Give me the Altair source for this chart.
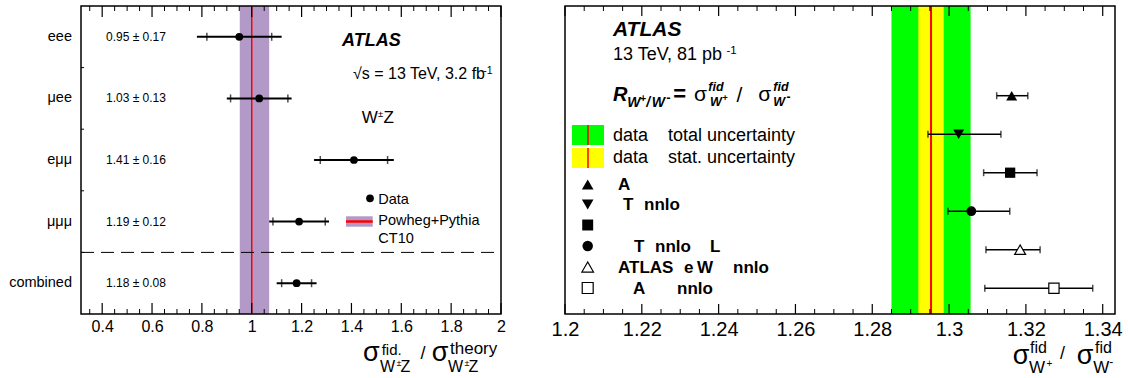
import altair as alt
import pandas as pd

FONT = "Liberation Sans"

# ---------------- data: left panel (W±Z cross-section ratios) ----------------
channels = ["eee", "μee", "eμμ", "μμμ", "combined"]
wz_value = [0.95, 1.03, 1.41, 1.19, 1.18]
wz_total = [0.17, 0.13, 0.16, 0.12, 0.08]
wz_stat = [0.13, 0.115, 0.135, 0.105, 0.06]
wz_row = [4.5, 3.5, 2.5, 1.5, 0.5]
theory_low, theory_high = 0.952, 1.070
theory_central = 1.0
separator_row = 1.0
row_edges = [1, 2, 3, 4]
left_major = [0.4, 0.6, 0.8, 1.0, 1.2, 1.4, 1.6, 1.8, 2.0]
left_minor = [0.35, 0.45, 0.5, 0.55, 0.65, 0.7, 0.75, 0.85, 0.9, 0.95, 1.05, 1.1,
              1.15, 1.25, 1.3, 1.35, 1.45, 1.5, 1.55, 1.65, 1.7, 1.75, 1.85, 1.9, 1.95]

# ---------------- data: right panel (W+/W- ratio) ----------------
R_central = 1.2953
R_stat = 0.0033
R_total = 0.0103
pred_value = [1.3163, 1.3025, 1.3159, 1.3058, 1.3185, 1.3273]
pred_low = [1.3124, 1.2945, 1.3090, 1.2997, 1.3096, 1.3093]
pred_high = [1.3205, 1.3135, 1.3229, 1.3158, 1.3237, 1.3374]
pred_shape = ["triangle-up", "triangle-down", "square", "circle", "triangle-up", "square"]
pred_open = [False, False, False, False, True, True]
pred_row = [5.67, 4.67, 3.67, 2.67, 1.67, 0.67]
right_major = [1.2, 1.22, 1.24, 1.26, 1.28, 1.3, 1.32, 1.34]
right_minor = [1.205, 1.21, 1.215, 1.225, 1.23, 1.235, 1.245, 1.25, 1.255, 1.265, 1.27,
               1.275, 1.285, 1.29, 1.295, 1.305, 1.31, 1.315, 1.325, 1.33, 1.335]

# ---------------- styles ----------------
WL, HL = 420, 308
WR, HR = 550, 308
PURPLE = "#b399c8"
RED = "#ff0000"
GREEN = "#00ff00"
YELLOW = "#ffff00"
shape_size = {"triangle-up": 120, "triangle-down": 120, "square": 105, "circle": 95}


def ptext(items, size, weight="normal", style="normal", align="left", baseline="alphabetic"):
    df = pd.DataFrame(items, columns=["t", "px", "py"])
    return alt.Chart(df).mark_text(font=FONT, fontSize=size, fontWeight=weight, fontStyle=style,
                                   align=align, baseline=baseline, color="black").encode(
        x=alt.X("px:Q", scale=None, axis=None), y=alt.Y("py:Q", scale=None, axis=None), text="t:N")


def prect(x1, y1, x2, y2, **kw):
    df = pd.DataFrame({"x1": [x1], "x2": [x2], "y1": [y1], "y2": [y2]})
    return alt.Chart(df).mark_rect(**kw).encode(
        x=alt.X("x1:Q", scale=None, axis=None), x2="x2:Q",
        y=alt.Y("y1:Q", scale=None, axis=None), y2="y2:Q")


def prule(x1, y1, x2, y2, **kw):
    df = pd.DataFrame({"x1": [x1], "x2": [x2], "y1": [y1], "y2": [y2]})
    return alt.Chart(df).mark_rule(**kw).encode(
        x=alt.X("x1:Q", scale=None, axis=None), x2="x2:Q",
        y=alt.Y("y1:Q", scale=None, axis=None), y2="y2:Q")


def frame_ticks(vals, xs, ax, H, length, width=1.0):
    df = pd.DataFrame({"v": vals})
    base = alt.Chart(df).mark_rule(color="black", strokeWidth=width)
    bot = base.encode(x=alt.X("v:Q", scale=xs, axis=ax), y=alt.value(H), y2=alt.value(H - length))
    top = base.encode(x=alt.X("v:Q", scale=xs, axis=ax), y=alt.value(0), y2=alt.value(length))
    return [bot, top]


def frame(W, H):
    return prect(0, 0, W, H, filled=False, stroke="black", strokeWidth=1.5)


# ================= LEFT PANEL =================
XL = alt.Scale(domain=[0.315, 2.0], nice=False, zero=False)
YL = alt.Scale(domain=[0, 5], nice=False, zero=False)
axL = alt.Axis(values=left_major, format="~g", labelFontSize=16, labelFont=FONT, labelColor="black",
               labelPadding=4, labelFlush=False, domain=False, ticks=False, tickSize=0, grid=False, title=None)

L = pd.DataFrame({"ch": channels, "v": wz_value, "tot": wz_total, "stat": wz_stat, "row": wz_row})
L["lo"] = L.v - L.tot
L["hi"] = L.v + L.tot
L["lab"] = [f"{v:.2f} ± {t:.2f}" for v, t in zip(wz_value, wz_total)]
Ls = pd.DataFrame({"x": list(L.v - L.stat) + list(L.v + L.stat), "row": wz_row * 2})

lx = lambda f: alt.X(f, type="quantitative", scale=XL, axis=axL)
ly = lambda f: alt.Y(f, type="quantitative", scale=YL, axis=None)

band = alt.Chart(pd.DataFrame({"a": [theory_low], "b": [theory_high]})).mark_rect(color=PURPLE).encode(
    x=lx("a"), x2="b", y=alt.value(0), y2=alt.value(HL))
cline = alt.Chart(pd.DataFrame({"c": [theory_central]})).mark_rule(color=RED, strokeWidth=1.5).encode(
    x=lx("c"), y=alt.value(0), y2=alt.value(HL))
sep = alt.Chart(pd.DataFrame({"r": [separator_row]})).mark_rule(
    color="black", strokeWidth=1, strokeDash=[13, 7]).encode(y=ly("r"), x=alt.value(0), x2=alt.value(WL))
edge_ticks = alt.Chart(pd.DataFrame({"r": row_edges})).mark_rule(color="black", strokeWidth=1).encode(
    y=ly("r"), x=alt.value(0), x2=alt.value(3))
err = alt.Chart(L).mark_rule(color="black", strokeWidth=2).encode(x=lx("lo"), x2="hi", y=ly("row"))
stat_t = alt.Chart(Ls).mark_tick(orient="vertical", size=8, thickness=1.5, color="black").encode(
    x=lx("x"), y=ly("row"))
pts = alt.Chart(L).mark_circle(size=60, color="black", opacity=1).encode(x=lx("v"), y=ly("row"))
row_lab = alt.Chart(L).mark_text(font=FONT, fontSize=14.5, align="right", baseline="middle",
                                 color="black").encode(x=alt.value(-9), y=ly("row"), text="ch:N")
val_lab = alt.Chart(L).mark_text(font=FONT, fontSize=12, align="left", baseline="middle",
                                 color="black").encode(x=alt.value(25), y=ly("row"), text="lab:N")

left_ann = [
    ptext([("ATLAS", 261, 40)], 18, weight="bold", style="italic"),
    ptext([("√s = 13 TeV, 3.2 fb", 404, 73.3)], 16, align="right"),
    ptext([("-1", 411.7, 67.5)], 10.5, align="right"),
    ptext([("W", 280.7, 116.7), ("Z", 302.5, 116.7)], 17),
    ptext([("±", 297, 110.5)], 9.5),
    # legend
    alt.Chart(pd.DataFrame({"px": [289], "py": [192.3]})).mark_circle(size=60, color="black", opacity=1).encode(
        x=alt.X("px:Q", scale=None, axis=None), y=alt.Y("py:Q", scale=None, axis=None)),
    ptext([("Data", 297.3, 197.5), ("Powheg+Pythia", 297.3, 219), ("CT10", 297.3, 237.3)], 14.5),
    prect(265, 210.3, 291.7, 220.7, color=PURPLE),
    prule(265, 215.5, 291.7, 215.5, color=RED, strokeWidth=2.5),
    # axis title
    ptext([("σ", 282, 355), ("σ", 350.7, 355)], 27),
    ptext([("fid.", 300.7, 349)], 15),
    ptext([("theory", 369, 348)], 17),
    ptext([("W", 299, 366), ("Z", 319.5, 366), ("W", 367, 366), ("Z", 387.5, 366)], 16),
    ptext([("±", 315.5, 360), ("±", 383.5, 360)], 9),
    ptext([("/", 342, 353)], 18, align="center"),
]

left = alt.layer(
    band, cline, sep, edge_ticks, err, stat_t, pts, row_lab, val_lab,
    *frame_ticks(left_major, XL, axL, HL, 11, 1.2),
    *frame_ticks(left_minor, XL, axL, HL, 5, 1.0),
    frame(WL, HL),
    *left_ann,
).properties(width=WL, height=HL)

# ================= RIGHT PANEL =================
XR = alt.Scale(domain=[1.2, 1.3432], nice=False, zero=False)
YR = alt.Scale(domain=[0, 8], nice=False, zero=False)
axR = alt.Axis(values=right_major, format="~g", labelFontSize=20, labelFont=FONT, labelColor="black",
               labelPadding=5, labelFlush=False, domain=False, ticks=False, tickSize=0, grid=False, title=None)
rx = lambda f: alt.X(f, type="quantitative", scale=XR, axis=axR)
ry = lambda f: alt.Y(f, type="quantitative", scale=YR, axis=None)

P = pd.DataFrame({"v": pred_value, "lo": pred_low, "hi": pred_high, "shape": pred_shape,
                  "open": pred_open, "row": pred_row})
P["sz"] = [shape_size[s] for s in pred_shape]
Pc = pd.DataFrame({"x": pred_low + pred_high, "row": pred_row * 2})

gband = alt.Chart(pd.DataFrame({"a": [R_central - R_total], "b": [R_central + R_total]})).mark_rect(
    color=GREEN).encode(x=rx("a"), x2="b", y=alt.value(0), y2=alt.value(HR))
yband = alt.Chart(pd.DataFrame({"a": [R_central - R_stat], "b": [R_central + R_stat]})).mark_rect(
    color=YELLOW).encode(x=rx("a"), x2="b", y=alt.value(0), y2=alt.value(HR))
rline = alt.Chart(pd.DataFrame({"c": [R_central]})).mark_rule(color=RED, strokeWidth=2).encode(
    x=rx("c"), y=alt.value(0), y2=alt.value(HR))
perr = alt.Chart(P).mark_rule(color="black", strokeWidth=1.5).encode(x=rx("lo"), x2="hi", y=ry("row"))
pcap = alt.Chart(Pc).mark_tick(orient="vertical", size=7, thickness=1.5, color="black").encode(
    x=rx("x"), y=ry("row"))
pfill = alt.Chart(P[~P.open]).mark_point(filled=True, color="black", opacity=1).encode(
    x=rx("v"), y=ry("row"), shape=alt.Shape("shape:N", scale=None), size=alt.Size("sz:Q", scale=None))
popen = alt.Chart(P[P.open]).mark_point(filled=True, color="white", stroke="black", strokeWidth=1.2,
                                         opacity=1).encode(
    x=rx("v"), y=ry("row"), shape=alt.Shape("shape:N", scale=None), size=alt.Size("sz:Q", scale=None))

leg_y = [178.5, 198.5, 219, 240, 261, 282]
LM = pd.DataFrame({"px": [22.7] * 6, "py": leg_y, "shape": pred_shape, "open": pred_open})
LM["sz"] = [shape_size[s] + 15 for s in pred_shape]
lm_fill = alt.Chart(LM[~LM.open]).mark_point(filled=True, color="black", opacity=1).encode(
    x=alt.X("px:Q", scale=None, axis=None), y=alt.Y("py:Q", scale=None, axis=None),
    shape=alt.Shape("shape:N", scale=None), size=alt.Size("sz:Q", scale=None))
lm_open = alt.Chart(LM[LM.open]).mark_point(filled=True, color="white", stroke="black", strokeWidth=1.2,
                                             opacity=1).encode(
    x=alt.X("px:Q", scale=None, axis=None), y=alt.Y("py:Q", scale=None, axis=None),
    shape=alt.Shape("shape:N", scale=None), size=alt.Size("sz:Q", scale=None))

right_ann = [
    ptext([("ATLAS", 48, 30)], 21, weight="bold", style="italic"),
    ptext([("13 TeV, 81 pb", 48, 54)], 18),
    ptext([("-1", 161.5, 47.5)], 11.5),
    # R_{W+/W-} = sigma^fid_{W+} / sigma^fid_{W-}
    ptext([("R", 48, 95)], 20, weight="bold", style="italic"),
    ptext([("W", 62.3, 101), ("/", 81.3, 101), ("W", 86.7, 101)], 14, weight="bold", style="italic"),
    ptext([("+", 75.3, 96)], 10, weight="bold"),
    ptext([("-", 101.3, 96)], 13, weight="bold"),
    ptext([("=", 108.3, 95)], 22, weight="bold"),
    ptext([("σ", 129, 95), ("σ", 193.3, 95)], 21),
    ptext([("fid", 143.3, 85), ("fid", 208.3, 85)], 12.5, weight="bold", style="italic"),
    ptext([("W", 145, 100), ("W", 208.3, 100)], 12.5, weight="bold", style="italic"),
    ptext([("+", 157.5, 95)], 9, weight="bold"),
    ptext([("-", 221.5, 95)], 12, weight="bold"),
    ptext([("/", 174.5, 96)], 21, align="center"),
    # uncertainty legend
    prect(7, 119, 39, 139, color=GREEN),
    prect(7, 142, 39, 162, color=YELLOW),
    prule(23, 119, 23, 139, color=RED, strokeWidth=1.5),
    prule(23, 142, 23, 162, color=RED, strokeWidth=1.5),
    ptext([("data", 48, 134.5), ("total uncertainty", 103, 134.5),
           ("data", 48, 156.5), ("stat. uncertainty", 103, 156.5)], 18),
    lm_fill, lm_open,
    ptext([("A", 53, 183.5), ("T", 58, 204.3), ("nnlo", 79, 204.3),
           ("T", 69, 245.7), ("nnlo", 90, 245.7), ("L", 145, 245.7),
           ("ATLAS", 53, 266.7), ("e", 119, 266.7), ("W", 132, 266.7), ("nnlo", 168, 266.7),
           ("A", 68, 287.7), ("nnlo", 112, 287.7)], 17, weight="bold"),
    # axis title
    ptext([("σ", 447.7, 358), ("σ", 511.7, 358)], 27),
    ptext([("fid", 465, 346.7), ("fid", 530, 346.7)], 16),
    ptext([("W", 464, 366.7), ("W", 528.3, 366.7)], 17),
    ptext([("+", 481.5, 361)], 10),
    ptext([("-", 544.3, 360)], 12),
    ptext([("/", 497.5, 353)], 18, align="center"),
]

right = alt.layer(
    gband, yband, rline, perr, pcap, pfill, popen,
    *frame_ticks(right_major, XR, axR, HR, 10, 1.2),
    *frame_ticks(right_minor, XR, axR, HR, 5, 1.0),
    frame(WR, HR),
    *right_ann,
).properties(width=WR, height=HR)

chart = alt.hconcat(left, right, spacing=64, bounds="flush").properties(
    padding={"left": 9, "top": 5, "right": 0, "bottom": 0}
).configure_view(stroke=None)

chart.save("out.html", embed_options={"renderer": "svg", "actions": False})
